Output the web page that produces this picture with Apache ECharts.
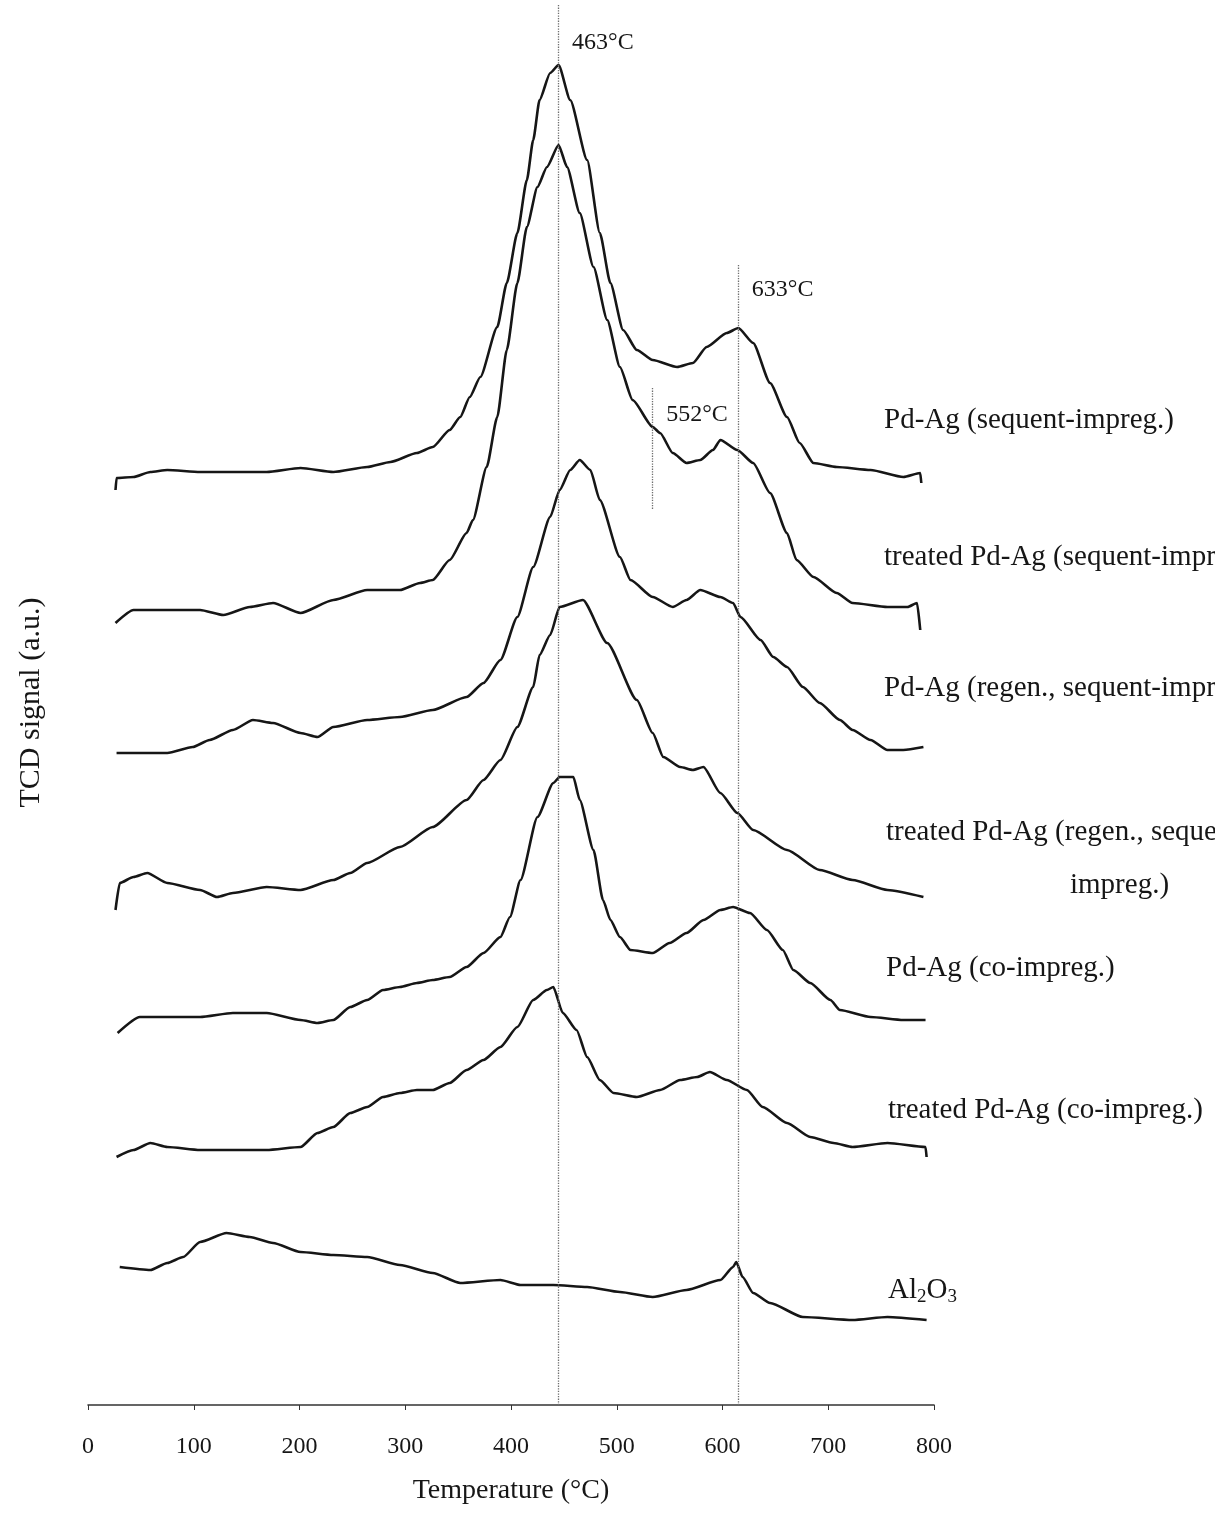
<!DOCTYPE html>
<html>
<head>
<meta charset="utf-8">
<script src="https://cdn.jsdelivr.net/npm/echarts/dist/echarts.min.js"></script>
<style>
  html, body { margin: 0; padding: 0; background: #ffffff; }
  #chart { width: 1215px; height: 1522px; }
</style>
</head>
<body>
<div id="chart"></div>
<script>
// H2-TPR profiles of the Pd-Ag catalysts.
// Each point: [temperature (°C), TCD signal above the trace's own baseline (a.u.)]
const seriesNames = [
  'Pd-Ag (sequent-impreg.)',
  'treated Pd-Ag (sequent-impreg.)',
  'Pd-Ag (regen., sequent-impreg.)',
  'treated Pd-Ag (regen., sequent-',
  'Pd-Ag (co-impreg.)',
  'treated Pd-Ag (co-impreg.)',
  'Al2O3'
];

// vertical shift of each trace in the stacked plot (a.u.)
const stackOffsets = [93, 79, 65, 52, 39, 25.5, 13.5];

const pdAgSeq = [
  [44,-1.5],[45,-0.3],[61,-0.2],[77,0.3],[93,0.5],[124,0.3],[155,0.3],[187,0.3],[219,0.7],
  [250,0.3],[282,0.8],[304,1.3],[329,2.2],[344,2.8],[360,4.5],[370,5.8],[379,7.8],[389,9.8],
  [405,14.8],[414,19.2],[424,24.2],[433,29.5],[439,33.5],[445,37.5],[455,40.2],[463,41],
  [474,37.5],[490,31.5],[502,24.2],[512,19.2],[524,14.5],[537,12.5],[552,11.5],[575,10.8],
  [590,11.2],[603,12.8],[622,14.2],[633,14.7],[647,13.2],[663,9.2],[679,5.8],[691,3.2],
  [704,1.2],[726,0.8],[758,0.5],[789,-0.2],[805,0.2],[806,-0.8]
];

const treatedPdAgSeq = [
  [44,-0.8],[61,0.5],[93,0.5],[124,0.5],[146,0],[171,0.8],[193,1.2],[219,0.2],[250,1.5],
  [282,2.5],[313,2.5],[332,3.2],[344,3.5],[360,5.5],[376,8.2],[382,9.5],[395,14.8],[405,19.8],
  [414,26.5],[424,33.2],[433,38.8],[443,42.8],[452,44.8],[463,47],[471,44.8],[483,40.2],
  [496,34.8],[509,29.5],[521,24.8],[533,21.5],[552,18.8],[559,18.2],[571,16.2],[584,15.2],
  [597,15.5],[609,16.5],[616,17.5],[632,16.5],[647,15.2],[663,12.2],[679,8.2],[688,5.5],
  [704,3.8],[726,2.2],[741,1.2],[774,0.8],[793,0.8],[802,1.2],[805,-1.5]
];

const pdAgRegenSeq = [
  [45,0.2],[61,0.2],[93,0.2],[117,0.8],[133,1.5],[155,2.5],[174,3.5],[193,3.2],[219,2.2],
  [235,1.8],[250,2.8],[282,3.5],[313,3.8],[344,4.5],[376,5.8],[392,7.2],[408,9.5],[424,13.8],
  [439,18.8],[455,23.8],[464,26.5],[474,28.5],[483,29.5],[493,28.5],[502,25.5],[521,19.8],
  [531,17.5],[552,15.8],[571,14.8],[584,15.5],[597,16.5],[616,15.8],[628,15.2],[635,13.8],
  [654,11.5],[666,9.8],[679,8.8],[694,6.8],[710,5.2],[729,3.5],[741,2.5],[758,1.5],
  [774,0.5],[789,0.5],[808,0.8]
];

const treatedPdAgRegenSeq = [
  [44,-2.5],[48,0.2],[61,0.8],[74,1.2],[93,0.2],[124,-0.5],[140,-1.2],[155,-0.8],[187,-0.2],
  [219,-0.5],[250,0.5],[266,1.2],[282,2.2],[313,3.8],[344,5.8],[376,8.5],[392,10.5],[408,12.5],
  [424,15.8],[439,19.8],[445,23],[455,25],[464,27.8],[486,28.5],[509,24.2],[537,18.5],
  [552,15.2],[562,12.8],[578,11.8],[590,11.5],[600,11.8],[616,9.2],[632,7.2],[647,5.5],
  [679,3.5],[710,1.5],[741,0.5],[774,-0.5],[808,-1.2]
];

const pdAgCo = [
  [46,-1.8],[67,-0.2],[93,-0.2],[124,-0.2],[155,0.2],[187,0.2],[219,-0.5],[235,-0.8],[250,-0.5],
  [266,0.8],[282,1.5],[297,2.5],[313,2.8],[329,3.2],[344,3.5],[360,3.8],[376,4.8],[392,6.2],
  [408,7.8],[417,9.8],[427,13.5],[443,19.8],[458,23.2],[464,23.8],[477,23.8],[483,21.5],
  [496,16.5],[505,11.5],[512,9.5],[521,7.8],[531,6.5],[552,6.2],[568,7.2],[584,8.2],[600,9.5],
  [616,10.5],[628,10.8],[644,10.2],[660,8.5],[675,6.5],[685,4.5],[701,3.2],[720,1.5],
  [729,0.5],[758,-0.2],[789,-0.5],[810,-0.5]
];

const treatedPdAgCo = [
  [45,-0.7],[61,0],[77,0.7],[93,0.3],[124,0],[155,0],[187,0],[219,0.3],[235,1.7],[250,2.3],
  [266,3.7],[282,4.3],[297,5.3],[313,5.7],[329,6],[344,6],[360,6.7],[376,8],[392,9],[408,10.3],
  [424,12.3],[439,15],[452,16],[458,16.3],[467,13.7],[480,12],[490,9.3],[502,7],[515,5.7],
  [537,5.3],[559,6],[578,7],[594,7.3],[606,7.8],[622,7],[641,6],[656,4.3],[679,2.7],
  [701,1.3],[723,0.7],[741,0.3],[774,0.7],[810,0.3],[811,-0.7]
];

const alumina = [
  [48,0.3],[77,0],[93,0.7],[108,1.3],[124,2.8],[149,3.7],[171,3.3],[193,2.7],[219,1.8],
  [250,1.5],[282,1.3],[313,0.5],[344,-0.3],[370,-1.3],[408,-1],[427,-1.5],[458,-1.5],
  [490,-1.7],[521,-2.2],[552,-2.7],[584,-2],[616,-1],[628,0.3],[631,0.8],[637,-0.7],
  [647,-2.3],[663,-3.3],[694,-4.7],[741,-5],[774,-4.7],[811,-5]
];

const traces = [pdAgSeq, treatedPdAgSeq, pdAgRegenSeq, treatedPdAgRegenSeq, pdAgCo, treatedPdAgCo, alumina];

// reduction peak temperatures marked on the plot (°C)
const peakTemps = [463, 552, 633];

const FONT = '"Liberation Serif", "Times New Roman", serif';
const INK = '#161616';

// vertical extent (a.u.) of each dotted marker line and height of its caption
const markerSpans = { 463: [140, 0], 552: [101.7, 89.5], 633: [114, 0] };
const markerCaptionY = { 463: 136.2, 552: 99, 633: 111.5 };

// name placement at the right-hand end of each trace (px)
const nameSpots = [
  [884, 420], [884, 557], [884, 688], [886, 832], [886, 968], [888, 1110], [888, 1290]
];

const chart = echarts.init(document.getElementById('chart'), null, { renderer: 'canvas' });

const lineSeries = traces.map((pts, i) => ({
  name: seriesNames[i],
  type: 'line',
  xAxisIndex: 1,
  yAxisIndex: 0,
  data: pts.map(p => [p[0], p[1] + stackOffsets[i]]),
  symbol: 'none',
  showSymbol: false,
  smooth: 0.2,
  smoothMonotone: 'x',
  lineStyle: { color: INK, width: 2.6, join: 'round' },
  silent: true,
  animation: false,
  z: 3
}));

const markerSeries = {
  name: 'peaks',
  type: 'scatter',
  xAxisIndex: 1,
  yAxisIndex: 0,
  symbolSize: 1,
  itemStyle: { color: 'rgba(255,255,255,0)', opacity: 1 },
  data: peakTemps.map(t => [t, markerCaptionY[t]]),
  label: {
    show: true,
    position: 'right',
    distance: 13,
    formatter: p => p.value[0] + '°C',
    fontFamily: FONT,
    fontSize: 24,
    color: INK,
    opacity: 1
  },
  markLine: {
    silent: true,
    symbol: ['none', 'none'],
    label: { show: false },
    lineStyle: { type: 'dotted', color: '#6e6e6e', width: 1.3, opacity: 1 },
    data: peakTemps.map(t => [
      { coord: [t, markerSpans[t][0]] },
      { coord: [t, markerSpans[t][1]] }
    ])
  },
  animation: false,
  z: 2
};

const nameTexts = seriesNames.map((n, i) => {
  const isAlumina = i === 6;
  return {
    type: 'text',
    x: nameSpots[i][0],
    y: nameSpots[i][1],
    silent: true,
    style: {
      text: isAlumina ? 'Al{s|2}O{s|3}' : n,
      font: '29px ' + FONT,
      fill: INK,
      verticalAlign: 'middle',
      rich: isAlumina ? {
        s: { fontSize: 19, fontFamily: FONT, fill: INK, padding: [14, 0, 0, 0] }
      } : undefined
    }
  };
});
// second line of the wrapped fourth name
nameTexts.push({
  type: 'text', x: 1070, y: 885, silent: true,
  style: { text: 'impreg.)', font: '29px ' + FONT, fill: INK, verticalAlign: 'middle' }
});

chart.setOption({
  backgroundColor: '#ffffff',
  animation: false,
  grid: { left: 88, right: 281, top: 0, bottom: 117, containLabel: false },
  xAxis: [
    {
      type: 'value',
      min: 0,
      max: 800,
      interval: 100,
      position: 'bottom',
      axisLine: { show: true, onZero: false, lineStyle: { color: '#333', width: 1.6 } },
      axisTick: { show: true, length: 5, lineStyle: { color: '#333', width: 1 } },
      axisLabel: { color: INK, fontSize: 24, fontFamily: FONT, margin: 30 },
      splitLine: { show: false },
      name: 'Temperature (°C)',
      nameLocation: 'middle',
      nameGap: 72,
      nameTextStyle: { color: INK, fontSize: 28, fontFamily: FONT }
    },
    {
      type: 'value',
      min: 18,
      max: 818,
      show: false
    }
  ],
  yAxis: {
    type: 'value',
    min: 0,
    max: 140.5,
    axisLine: { show: false },
    axisTick: { show: false },
    axisLabel: { show: false },
    splitLine: { show: false },
    name: 'TCD signal (a.u.)',
    nameLocation: 'middle',
    nameGap: 42,
    nameRotate: 90,
    nameTextStyle: { color: INK, fontSize: 30, fontFamily: FONT }
  },
  series: [...lineSeries, markerSeries],
  graphic: nameTexts
});
</script>
</body>
</html>
